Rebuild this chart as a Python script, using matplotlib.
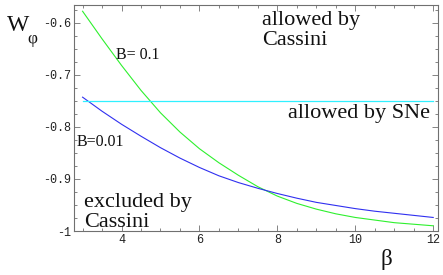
import matplotlib
matplotlib.use("Agg")
import matplotlib.pyplot as plt
from matplotlib.ticker import MultipleLocator

# Data
beta_grid = [3, 3.5, 4, 4.5, 5, 5.5, 6, 6.5, 7, 7.5, 8, 8.5, 9, 9.5, 10, 10.5, 11, 11.5, 12]
w_b01 = [-0.578, -0.631, -0.682, -0.730, -0.773, -0.810, -0.842, -0.869, -0.893, -0.915,
         -0.933, -0.947, -0.958, -0.967, -0.974, -0.979, -0.984, -0.987, -0.990]
w_b001 = [-0.743, -0.770, -0.795, -0.818, -0.840, -0.860, -0.878, -0.894, -0.907, -0.918,
          -0.928, -0.937, -0.945, -0.951, -0.957, -0.962, -0.966, -0.970, -0.974]
sne_beta = [3, 12]
sne_w = [-0.75, -0.75]

xticks = [4, 6, 8, 10, 12]
xticklabels = ["4", "6", "8", "10", "12"]
yticks = [-1.0, -0.9, -0.8, -0.7, -0.6]
yticklabels = ["-1", "-0.9", "-0.8", "-0.7", "-0.6"]

serif = "Liberation Serif"
mono = "Liberation Mono"

W, H = 443, 275
fig = plt.figure(figsize=(W / 100, H / 100), dpi=100)
ax = fig.add_axes([74 / W, 1 - 231 / H, (437.5 - 74) / W, (231 - 5) / H])

ax.plot(beta_grid, w_b01, color="#2ef02e", lw=0.8)
ax.plot(beta_grid, w_b001, color="#3030f0", lw=0.8)
ax.plot(sne_beta, sne_w, color="#30f0ff", lw=0.9)

ax.set_xlim(2.78, 12.11)
ax.set_ylim(-1.0, -0.566)

ax.set_xticks(xticks)
ax.set_xticklabels(xticklabels, fontfamily=mono, fontsize=8.5)
ax.set_yticks(yticks)
ax.set_yticklabels(yticklabels, fontfamily=mono, fontsize=8.5)
ax.xaxis.set_minor_locator(MultipleLocator(0.5))
ax.yaxis.set_minor_locator(MultipleLocator(0.025))
ax.tick_params(which="both", direction="in", top=True, right=True,
               color="#707070", width=0.6, labelcolor="#222222")
ax.tick_params(which="major", length=4, pad=2)
ax.tick_params(which="minor", length=2)
for s in ax.spines.values():
    s.set_color("#707070")
    s.set_linewidth(0.8)


def px_text(x, y, s, size, **kw):
    fig.text(x / W, 1 - y / H, s, fontsize=size, fontfamily=serif,
             va="baseline", ha="left", color="#111111", **kw)


# axis labels
px_text(7, 31, "W", 17)
px_text(27, 43, "φ", 12.5)
px_text(381, 265, "β", 16.5)

# annotations
px_text(262, 25, "allowed by", 16)
px_text(262, 45, "Cassini", 16)
px_text(288, 118, "allowed by SNe", 16)
px_text(84, 207, "excluded by", 16)
px_text(84, 227, "Cassini", 16)
px_text(116, 59, "B= 0.1", 11.5)
px_text(77, 146, "B=0.01", 11.5)

fig.savefig("out.png", dpi=100)
